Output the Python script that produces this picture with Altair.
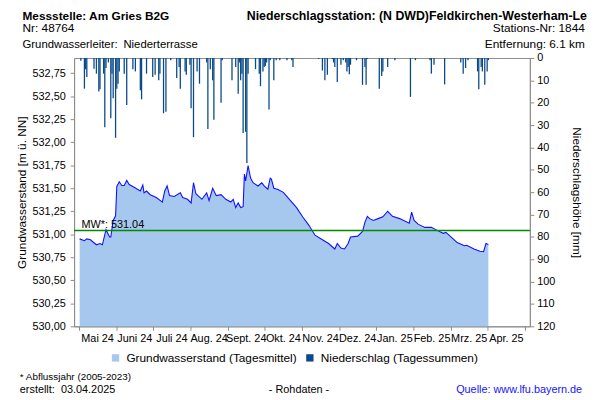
import calendar
import altair as alt
import pandas as pd

# ---------------- data ----------------
month_labels = ["Mai 24", "Juni 24", "Juli 24", "Aug. 24", "Sept. 24", "Okt. 24",
                "Nov. 24", "Dez. 24", "Jan. 25", "Feb. 25", "Mrz. 25", "Apr. 25"]

gw_dates = [
    "2024-05-01", "2024-05-05", "2024-05-07", "2024-05-10", "2024-05-15", "2024-05-18",
    "2024-05-20", "2024-05-23", "2024-05-26", "2024-05-27", "2024-05-29", "2024-05-31",
    "2024-06-01", "2024-06-03", "2024-06-05", "2024-06-07", "2024-06-09", "2024-06-11",
    "2024-06-15", "2024-06-20", "2024-06-22", "2024-06-23", "2024-06-25", "2024-06-28",
    "2024-07-03", "2024-07-08", "2024-07-10", "2024-07-12", "2024-07-14", "2024-07-18",
    "2024-07-23", "2024-07-25", "2024-07-29", "2024-08-01", "2024-08-03", "2024-08-05",
    "2024-08-10", "2024-08-14", "2024-08-16", "2024-08-19", "2024-08-22", "2024-08-26",
    "2024-08-30", "2024-09-03", "2024-09-05", "2024-09-07", "2024-09-09", "2024-09-11",
    "2024-09-13", "2024-09-14", "2024-09-15", "2024-09-17", "2024-09-19", "2024-09-21",
    "2024-09-25", "2024-09-28", "2024-09-30", "2024-10-03", "2024-10-05", "2024-10-06",
    "2024-10-08", "2024-10-11", "2024-10-16", "2024-10-21", "2024-10-27", "2024-11-01",
    "2024-11-06", "2024-11-11", "2024-11-17", "2024-11-22", "2024-11-27", "2024-11-29",
    "2024-12-02", "2024-12-05", "2024-12-08", "2024-12-10", "2024-12-16", "2024-12-20",
    "2024-12-22", "2024-12-24", "2024-12-26", "2024-12-29", "2025-01-02", "2025-01-06",
    "2025-01-10", "2025-01-14", "2025-01-20", "2025-01-28", "2025-01-30", "2025-02-01",
    "2025-02-04", "2025-02-09", "2025-02-14", "2025-02-18", "2025-02-23", "2025-02-25",
    "2025-03-01", "2025-03-06", "2025-03-12", "2025-03-14", "2025-03-20", "2025-03-25",
    "2025-03-28", "2025-03-30", "2025-04-01",
]
gw_levels = [
    530.95, 530.93, 530.95, 530.94, 530.886, 530.90,
    530.886, 531.05, 530.97, 530.97, 531.15, 531.20,
    531.52, 531.57, 531.53, 531.53, 531.585, 531.54,
    531.51, 531.47, 531.535, 531.45, 531.47, 531.43,
    531.40, 531.35, 531.47, 531.525, 531.42, 531.41,
    531.45, 531.40, 531.38, 531.34, 531.56, 531.44,
    531.38, 531.45, 531.365, 531.50, 531.42, 531.43,
    531.38, 531.35, 531.38, 531.29, 531.34, 531.29,
    531.30, 531.655, 531.58, 531.745, 531.61, 531.56,
    531.525, 531.56, 531.525, 531.49, 531.61, 531.60,
    531.50, 531.49, 531.455, 531.38, 531.29, 531.19,
    531.10, 530.99, 530.94, 530.90, 530.84, 530.90,
    530.85, 530.84, 530.90, 530.97, 530.98, 531.03,
    531.13, 531.195, 531.17, 531.15, 531.17, 531.19,
    531.25, 531.195, 531.17, 531.12, 531.24, 531.15,
    531.11, 531.075, 531.075, 531.045, 531.01, 531.02,
    530.97, 530.91, 530.875, 530.88, 530.84, 530.815,
    530.81, 530.90, 530.89,
]

precip_dates = [
    "2024-05-02", "2024-05-05", "2024-05-06", "2024-05-07", "2024-05-13", "2024-05-15",
    "2024-05-17", "2024-05-18", "2024-05-21", "2024-05-22", "2024-05-23", "2024-05-25",
    "2024-05-27", "2024-05-28", "2024-05-29", "2024-05-31", "2024-06-01", "2024-06-02",
    "2024-06-03", "2024-06-07", "2024-06-09", "2024-06-14", "2024-06-16", "2024-06-20",
    "2024-06-21", "2024-06-25", "2024-06-30", "2024-07-02", "2024-07-05", "2024-07-06",
    "2024-07-09", "2024-07-11", "2024-07-15", "2024-07-20", "2024-07-22", "2024-07-23",
    "2024-07-27", "2024-07-28", "2024-07-31", "2024-08-01", "2024-08-03", "2024-08-06",
    "2024-08-08", "2024-08-14", "2024-08-15", "2024-08-17", "2024-08-19", "2024-08-20",
    "2024-08-26", "2024-08-27", "2024-09-04", "2024-09-07", "2024-09-09", "2024-09-10",
    "2024-09-11", "2024-09-12", "2024-09-13", "2024-09-15", "2024-09-16", "2024-09-17",
    "2024-09-23", "2024-09-26", "2024-09-27", "2024-09-29", "2024-09-30", "2024-10-01",
    "2024-10-02", "2024-10-04", "2024-10-05", "2024-10-08", "2024-10-10", "2024-10-13",
    "2024-10-19", "2024-10-23", "2024-10-24", "2024-11-14", "2024-11-17", "2024-11-19",
    "2024-11-21", "2024-11-25", "2024-11-26", "2024-11-27", "2024-11-29", "2024-12-02",
    "2024-12-04", "2024-12-06", "2024-12-07", "2024-12-08", "2024-12-09", "2024-12-10",
    "2024-12-15", "2024-12-20", "2024-12-22", "2024-12-23", "2024-12-24", "2025-01-03",
    "2025-01-05", "2025-01-06", "2025-01-10", "2025-01-16", "2025-01-29", "2025-02-02",
    "2025-02-13", "2025-02-14", "2025-02-16", "2025-02-24", "2025-03-09", "2025-03-11",
    "2025-03-13", "2025-03-15", "2025-03-23", "2025-03-24", "2025-03-26", "2025-03-27",
    "2025-03-29", "2025-03-31", "2025-04-01",
]
precip_mm = [
    1.2, 13.7, 5.0, 8.5, 4.8, 7.0,
    15.0, 14.0, 7.0, 31.0, 4.5, 2.0,
    27.0, 7.0, 18.0, 35.7, 13.7, 11.5,
    6.0, 7.0, 21.0, 5.0, 6.0, 14.4,
    18.5, 7.0, 8.5, 7.5, 10.0, 7.0,
    24.7, 24.0, 1.0, 9.0, 4.0, 13.7,
    6.0, 7.5, 3.0, 22.5, 35.4, 6.0,
    11.5, 2.0, 31.7, 5.0, 10.0, 27.6,
    20.0, 1.0, 10.0, 4.0, 16.0, 2.0,
    10.0, 7.0, 33.5, 33.0, 47.0, 7.0,
    5.0, 7.0, 12.6, 6.0, 4.0, 3.5,
    2.0, 23.0, 1.0, 10.0, 1.0, 1.0,
    1.0, 1.0, 4.0, 0.5, 5.6, 10.0,
    7.5, 0.5, 2.0, 4.0, 10.7, 3.0,
    1.0, 2.0, 6.0, 4.0, 7.3, 3.0,
    1.0, 12.0, 4.0, 12.0, 0.5, 13.7,
    8.0, 6.0, 4.0, 1.0, 17.4, 1.0,
    1.0, 7.0, 3.0, 11.8, 2.0, 7.0,
    4.5, 1.0, 6.0, 14.0, 4.0, 6.0,
    12.0, 6.0, 1.0,
]

mean_level = 531.04
gw_label = "Grundwasserstand (Tagesmittel)"
pr_label = "Niederschlag (Tagessummen)"


def month_pos(d):
    """Calendar date -> position on the month axis (equal-width months from May 2024)."""
    y, m, day = map(int, d.split("-"))
    idx = (y - 2024) * 12 + (m - 5)
    return idx + (day - 0.5) / calendar.monthrange(y, m)[1]


gw_df = pd.DataFrame({"date": gw_dates, "level": gw_levels})
gw_df["pos"] = gw_df["date"].map(month_pos)
gw_df["series"] = gw_label
pr_df = pd.DataFrame({"date": precip_dates, "mm": precip_mm})
pr_df["pos"] = pr_df["date"].map(month_pos)
pr_df["series"] = pr_label
month_df = pd.DataFrame({"label": month_labels, "pos": [i + 0.5 for i in range(len(month_labels))]})
mw_df = pd.DataFrame({"level": [mean_level]})

# ---------------- style ----------------
FONT = "Liberation Sans"
GRAY = "#8c8c8c"
FILL = "#a7c8ee"
LINE = "#1010ff"
BAR = "#0a4a8a"
W, H = 462, 272

x_enc = alt.X(
    "pos:Q",
    scale=alt.Scale(domain=[0, 12], nice=False, zero=False),
    axis=alt.Axis(
        orient="bottom", values=list(range(13)), labels=False,
        tickSize=4, domainColor=GRAY, tickColor=GRAY, grid=False, title=None,
    ),
)

y_gw = alt.Y(
    "level:Q",
    scale=alt.Scale(domain=[530, 532.915], nice=False, zero=False),
    axis=alt.Axis(
        orient="left", values=[530 + 0.25 * i for i in range(12)],
        labelExpr="replace(format(datum.value, '.2f'), '.', ',')",
        labelOverlap=False, labelFlush=False,
        tickSize=4, labelPadding=5, labelFontSize=11, labelFont=FONT, labelColor="black",
        domainColor=GRAY, tickColor=GRAY, grid=False,
        title="Grundwasserstand [m ü. NN]", titleFont=FONT, titleFontSize=12,
        titleFontWeight="normal", titleColor="black",
        titleX=-53, titleY=H / 2, titleAngle=270, titleBaseline="middle", titleAlign="center",
    ),
)

color_scale = alt.Scale(domain=[gw_label, pr_label], range=[FILL, BAR])
legend = alt.Legend(
    orient="none", legendX=36, legendY=298, direction="horizontal", title=None,
    symbolType="square", symbolSize=55, symbolStrokeWidth=0, labelFont=FONT,
    labelFontSize=12, labelLimit=400, labelOffset=5, columnPadding=7, labelColor="black",
)

gw_base = alt.Chart(gw_df)
area = gw_base.mark_area(opacity=1).encode(
    x=x_enc, y=y_gw, y2=alt.datum(530),
    color=alt.Color("series:N", scale=color_scale, legend=legend),
)
line = gw_base.mark_line(color=LINE, strokeWidth=1.1).encode(x=x_enc, y=y_gw)
mw_rule = alt.Chart(mw_df).mark_rule(color="#008a00", strokeWidth=1.5).encode(y=y_gw)
mw_text = alt.Chart(mw_df).transform_calculate(
    lbl="'MW*: ' + format(datum.level, '.2f')"
).mark_text(
    align="left", baseline="alphabetic", dy=-3, font=FONT, fontSize=11, color="black"
).encode(x=alt.value(7.5), y=y_gw, text="lbl:N")

gw_layer = alt.layer(area, line, mw_rule, mw_text)

month_text = alt.Chart(month_df).mark_text(
    align="center", baseline="middle", font=FONT, fontSize=11, color="black"
).encode(x=x_enc, y=alt.value(H + 13), text="label:N")

bars = alt.Chart(pr_df).mark_bar(size=1.3).encode(
    x=x_enc,
    y=alt.Y(
        "mm:Q",
        scale=alt.Scale(domain=[0, 120], reverse=True, nice=False),
        axis=alt.Axis(
            orient="right", values=list(range(0, 121, 10)),
            labelOverlap=False, labelFlush=False,
            tickSize=4, labelPadding=3, labelFontSize=11, labelFont=FONT, labelColor="black",
            domainColor=GRAY, tickColor=GRAY, grid=False,
            title="Niederschlagshöhe [mm]", titleFont=FONT, titleFontSize=12,
            titleFontWeight="normal", titleColor="black",
            titleX=47, titleY=H / 2, titleAngle=90, titleBaseline="middle", titleAlign="center",
        ),
    ),
    y2=alt.datum(0),
    color=alt.Color("series:N", scale=color_scale, legend=legend),
)


def label(text, x, y, size=12.0, weight="normal", align="left", color="black"):
    return alt.Chart(pd.DataFrame({"t": [text]})).mark_text(
        align=align, baseline="alphabetic", font=FONT, fontSize=size,
        fontWeight=weight, color=color,
    ).encode(x=alt.value(x), y=alt.value(y), text="t:N")


texts = [
    label("Messstelle: Am Gries B2G", -52.3, -39, size=12, weight="bold"),
    label("Nr: 48764", -52.3, -26),
    label("Grundwasserleiter:", -52.3, -10.3, size=11.5),
    label("Niederterrasse", 50, -10.3, size=11.5),
    label("Niederschlagsstation: (N DWD)Feldkirchen-Westerham-Le", 175, -39,
          size=12.5, weight="bold"),
    label("Stations-Nr: 1844", 517.7, -26, size=12, align="right"),
    label("Entfernung: 6.1 km", 517.7, -10.3, size=12, align="right"),
    label("* Abflussjahr (2005-2023)", -55, 326.5, size=10),
    label("erstellt:", -55, 340, size=11),
    label("03.04.2025", -13.3, 340, size=11),
    label("- Rohdaten -", 228, 340, size=11, align="center"),
    label("Quelle: www.lfu.bayern.de", 515, 340, size=11, align="right", color="#1414ff"),
]

chart = alt.layer(gw_layer, bars, month_text, *texts).resolve_scale(y="independent").properties(
    width=W, height=H,
    autosize=alt.AutoSizeParams(type="none"),
    padding={"left": 67, "top": 48, "right": 63, "bottom": 72},
    background="white",
).configure_view(stroke=GRAY, strokeWidth=1)

chart.save("out.html", embed_options={"renderer": "svg", "actions": False})
